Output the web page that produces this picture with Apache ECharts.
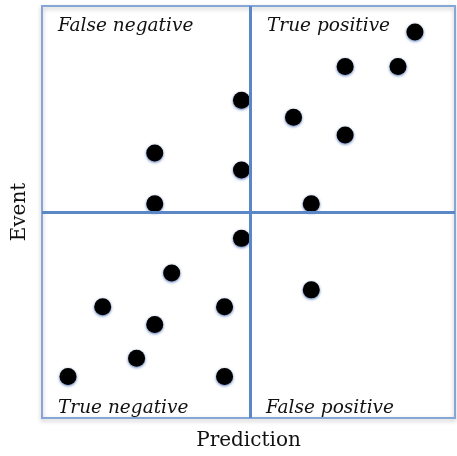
<!DOCTYPE html>
<html style="height: 100%">
   <head>
       <meta charset="utf-8">
       <script src="https://cdn.jsdelivr.net/npm/echarts@6/dist/echarts.min.js"></script>
   </head>
   <body style="height: 100%; margin: 0; background: #fff">
       <div id="container" style="width: 457px; height: 456px"></div>
       <script type="text/javascript">
// points, [prediction, event]
var falseNegative = [[2.73, 6.43], [2.73, 5.20], [4.83, 7.71], [4.83, 6.02]];
var truePositive = [[9.03, 9.37], [7.34, 8.53], [8.62, 8.53], [6.09, 7.30], [7.34, 6.87], [6.52, 5.20]];
var trueNegative = [[4.83, 4.36], [3.14, 3.52], [1.47, 2.70], [2.73, 2.27], [2.29, 1.45], [0.63, 1.01], [4.42, 2.70], [4.42, 1.01]];
var falsePositive = [[6.52, 3.11]];
var predictionCut = 5.05;
var eventCut = 5.0;
var quadrantNames = ['False negative', 'True positive', 'True negative', 'False positive'];

var dom = document.getElementById("container");
var myChart = echarts.init(dom);

var dotStyle = {
    color: '#000',
    opacity: 1,
    shadowColor: 'rgba(40, 80, 160, 0.8)',
    shadowBlur: 3,
    shadowOffsetY: 1
};
var labelFont = {
    fontFamily: 'DejaVu Serif',
    fontStyle: 'italic',
    fontSize: 18.5,
    fill: '#111'
};

function dots(name, data) {
    return {
        name: name,
        type: 'scatter',
        symbolSize: 17,
        itemStyle: dotStyle,
        data: data
    };
}

var series = [
    dots(quadrantNames[0], falseNegative),
    dots(quadrantNames[1], truePositive),
    dots(quadrantNames[2], trueNegative),
    dots(quadrantNames[3], falsePositive)
];
series[0].markLine = {
    silent: true,
    symbol: 'none',
    label: {show: false},
    lineStyle: {color: '#5b87c6', width: 3, type: 'solid'},
    data: [{xAxis: predictionCut}, {yAxis: eventCut}]
};

var option = {
    animation: false,
    grid: {
        show: true,
        left: 42,
        top: 6,
        width: 413,
        height: 415,
        borderColor: '#86a6d6',
        borderWidth: 2,
        shadowColor: 'rgba(0,0,0,0.25)',
        shadowBlur: 4,
        shadowOffsetY: 2
    },
    xAxis: {
        type: 'value',
        min: 0,
        max: 10,
        name: 'Prediction',
        nameLocation: 'middle',
        nameGap: 13,
        nameTextStyle: {fontFamily: 'DejaVu Serif', fontSize: 20, color: '#111'},
        axisLine: {show: false},
        axisTick: {show: false},
        axisLabel: {show: false},
        splitLine: {show: false}
    },
    yAxis: {
        type: 'value',
        min: 0,
        max: 10,
        name: 'Event',
        nameLocation: 'middle',
        nameGap: 12,
        nameTextStyle: {fontFamily: 'DejaVu Serif', fontSize: 20, color: '#111'},
        axisLine: {show: false},
        axisTick: {show: false},
        axisLabel: {show: false},
        splitLine: {show: false}
    },
    graphic: [
        {type: 'text', left: 58, top: 17, style: Object.assign({text: quadrantNames[0]}, labelFont)},
        {type: 'text', left: 267, top: 17, style: Object.assign({text: quadrantNames[1]}, labelFont)},
        {type: 'text', left: 58, top: 399, style: Object.assign({text: quadrantNames[2]}, labelFont)},
        {type: 'text', left: 266, top: 399, style: Object.assign({text: quadrantNames[3]}, labelFont)}
    ],
    series: series
};
myChart.setOption(option);
       </script>
   </body>
</html>
